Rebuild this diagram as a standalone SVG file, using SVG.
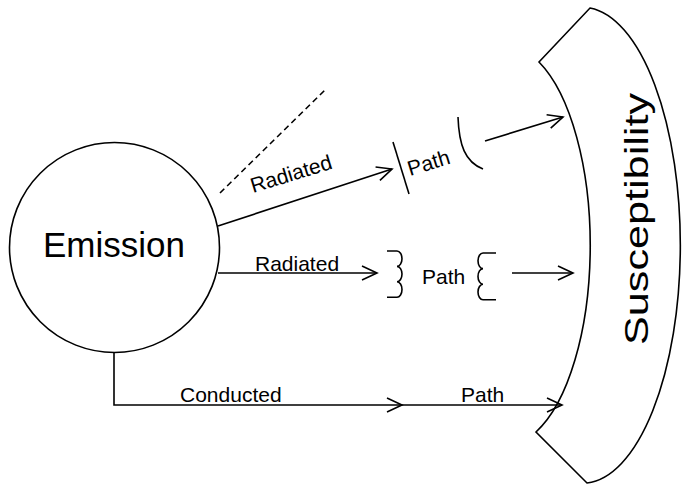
<svg xmlns="http://www.w3.org/2000/svg" width="688" height="485" viewBox="0 0 688 485">
<style>
.ln{fill:none;stroke:#000;stroke-width:1.6}
.t{font-family:"Liberation Sans",Arial,sans-serif;fill:#000}
.lbl{font-size:21px}
</style>
<defs>
<marker id="arr" markerUnits="userSpaceOnUse" markerWidth="20" markerHeight="18" viewBox="0 0 20 18" refX="17" refY="9" orient="auto">
<path d="M2,2 L17,9 L2,16" fill="none" stroke="#000" stroke-width="1.6"/>
</marker>
</defs>
<rect width="688" height="485" fill="#fff"/>
<g id="emission">
<circle class="ln" cx="114.5" cy="247.5" r="105"/>
<text class="t" x="114" y="257" font-size="35" text-anchor="middle">Emission</text>
</g>
<g id="susceptibility">
<path class="ln" d="M539,62 L590,8 A98,238 0 0 1 587,483 L536,432 A85,200 0 0 0 539,62 Z"/>
<text class="t" transform="translate(648,219) rotate(-90)" font-size="34" text-anchor="middle" textLength="252" lengthAdjust="spacingAndGlyphs">Susceptibility</text>
</g>
<g id="path-top">
<line class="ln" x1="393" y1="142" x2="409" y2="194"/>
<path class="ln" d="M458,117 C459,145 465,162 483,169"/>
<text class="t lbl" transform="translate(410,176) rotate(-17)">Path</text>
</g>
<g id="path-middle">
<path class="ln" d="M387,251 H397 a5,7.7 0 0 1 0,15.4 a5,7.7 0 0 1 0,15.4 a5,7.7 0 0 1 0,15.4 H387"/>
<path class="ln" d="M496,253 H483 a5,7.8 0 0 0 0,15.6 a5,7.8 0 0 0 0,15.6 a5,7.8 0 0 0 0,15.6 H496"/>
<text class="t lbl" x="422" y="284">Path</text>
</g>
<g id="path-bottom">
<text class="t lbl" x="461" y="402">Path</text>
</g>
<g id="connectors">
<line class="ln" x1="220" y1="193" x2="326" y2="89" stroke-dasharray="6,4"/>
<line class="ln" x1="218" y1="226" x2="392" y2="169" marker-end="url(#arr)"/>
<line class="ln" x1="485" y1="141" x2="563" y2="117" marker-end="url(#arr)"/>
<line class="ln" x1="218" y1="273" x2="377" y2="273" marker-end="url(#arr)"/>
<line class="ln" x1="512" y1="273" x2="573" y2="273" marker-end="url(#arr)"/>
<path class="ln" d="M114,352 V405 H402" marker-end="url(#arr)"/>
<line class="ln" x1="402" y1="405" x2="562" y2="405" marker-end="url(#arr)"/>
<text class="t lbl" transform="translate(253,193) rotate(-17)">Radiated</text>
<text class="t lbl" x="255" y="271">Radiated</text>
<text class="t lbl" x="180" y="402">Conducted</text>
</g>
</svg>
